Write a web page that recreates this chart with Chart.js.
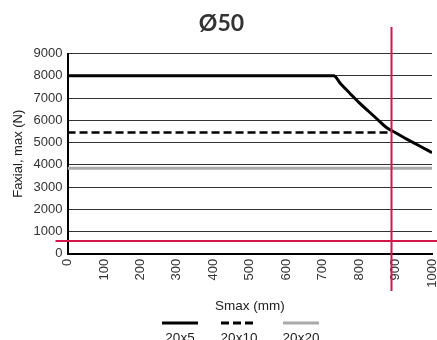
<!DOCTYPE html>
<html>
<head>
<meta charset="utf-8">
<script src="https://cdn.jsdelivr.net/npm/chart.js@4/dist/chart.umd.min.js"></script>
<style>
  html, body { margin: 0; padding: 0; background: #fff; }
  #wrap { width: 437px; height: 340px; }
</style>
</head>
<body>
<div id="wrap"><canvas id="grafico"></canvas></div>
<script>
// Dados
const seriesLabels = ['20x5', '20x10', '20x20'];
const sMax5 = [0, 730, 750, 775, 800, 825, 850, 875, 900, 925, 950, 975, 1000];
const force5 = [8000, 8000, 7630, 7210, 6800, 6420, 6050, 5680, 5440, 5210, 4990, 4770, 4550];
const sMax10 = [0, 888];
const force10 = [5450, 5450];
const sMax20 = [0, 1000];
const force20 = [3850, 3850];
const yTicks = [0, 1000, 2000, 3000, 4000, 5000, 6000, 7000, 8000, 9000];
// linhas vermelhas de referência
const markerS = [888];
const markerF = [560];

const toPoints = (xs, ys) => xs.map((x, i) => ({ x: x, y: ys[i] }));

const RED = '#d4164b';
const FONT = "'Liberation Sans', Arial, sans-serif";

// desenha as linhas vermelhas e a legenda com a amostra acima do texto
const extrasPlugin = {
  id: 'extras',
  afterDraw(chart) {
    const ctx = chart.ctx;
    const xs = chart.scales.x, ys = chart.scales.y;
    const area = chart.chartArea;
    ctx.save();
    ctx.strokeStyle = RED;
    ctx.lineWidth = 2;
    const px = Math.round(xs.getPixelForValue(markerS[0])) + 0.5;
    ctx.beginPath();
    ctx.moveTo(px, 27);
    ctx.lineTo(px, 291);
    ctx.stroke();
    const py = Math.round(ys.getPixelForValue(markerF[0]));
    ctx.beginPath();
    ctx.moveTo(area.left - 12, py);
    ctx.lineTo(chart.width, py);
    ctx.stroke();

    // legenda
    const centers = [180, 239, 301];
    chart.data.datasets.forEach((ds, i) => {
      const cx = centers[i];
      ctx.strokeStyle = ds.borderColor;
      ctx.lineWidth = 3;
      ctx.setLineDash(ds.borderDash || []);
      ctx.beginPath();
      ctx.moveTo(cx - 18, 323);
      ctx.lineTo(cx + 18, 323);
      ctx.stroke();
      ctx.setLineDash([]);
      ctx.fillStyle = '#222';
      ctx.font = "13.5px " + FONT;
      ctx.textAlign = 'center';
      ctx.textBaseline = 'top';
      ctx.fillText(ds.label, cx, 332);
    });
    ctx.restore();
  }
};

new Chart(document.getElementById('grafico'), {
  type: 'line',
  data: {
    datasets: [
      { label: seriesLabels[0], data: toPoints(sMax5, force5), borderColor: '#000', borderWidth: 3, cubicInterpolationMode: 'monotone' },
      { label: seriesLabels[1], data: toPoints(sMax10, force10), borderColor: '#000', borderWidth: 2.5, borderDash: [8, 4] },
      { label: seriesLabels[2], data: toPoints(sMax20, force20), borderColor: '#aaaaaa', borderWidth: 3 }
    ]
  },
  options: {
    responsive: true,
    maintainAspectRatio: false,
    animation: false,
    elements: { point: { radius: 0 }, line: { tension: 0, fill: false } },
    layout: { padding: { top: 0, left: 11, right: 5, bottom: 26 } },
    plugins: {
      legend: { display: false },
      tooltip: { enabled: false },
      title: {
        display: true,
        text: 'Ø50',
        color: '#333',
        font: { family: "Lato, 'Noto Sans', sans-serif", size: 23, weight: 'bold' },
        padding: { top: 10, bottom: 16 }
      }
    },
    scales: {
      x: {
        type: 'linear',
        min: 0,
        max: 1000,
        afterFit: (scale) => { scale.paddingRight = 0; },
        ticks: {
          stepSize: 100, maxRotation: 90, minRotation: 90, color: '#333',
          font: { family: FONT, size: 13 }, padding: 5,
          callback: (v) => String(v)
        },
        grid: { display: false, drawTicks: false },
        border: { color: '#000', width: 2 },
        title: { display: true, text: 'Smax (mm)', color: '#222', font: { family: FONT, size: 13.5 }, padding: { top: 5, bottom: 0 } }
      },
      y: {
        min: 0,
        max: 9000,
        afterBuildTicks: (scale) => { scale.ticks = yTicks.map(v => ({ value: v })); },
        ticks: { color: '#333', font: { family: FONT, size: 13 }, padding: 5, callback: (v) => String(v) },
        grid: { color: '#333', lineWidth: 1, drawTicks: false },
        border: { color: '#000', width: 2 },
        title: { display: true, text: 'Faxial, max (N)', color: '#222', font: { family: FONT, size: 13 }, padding: { top: 0, bottom: 2 } }
      }
    }
  },
  plugins: [extrasPlugin]
});
</script>
</body>
</html>
